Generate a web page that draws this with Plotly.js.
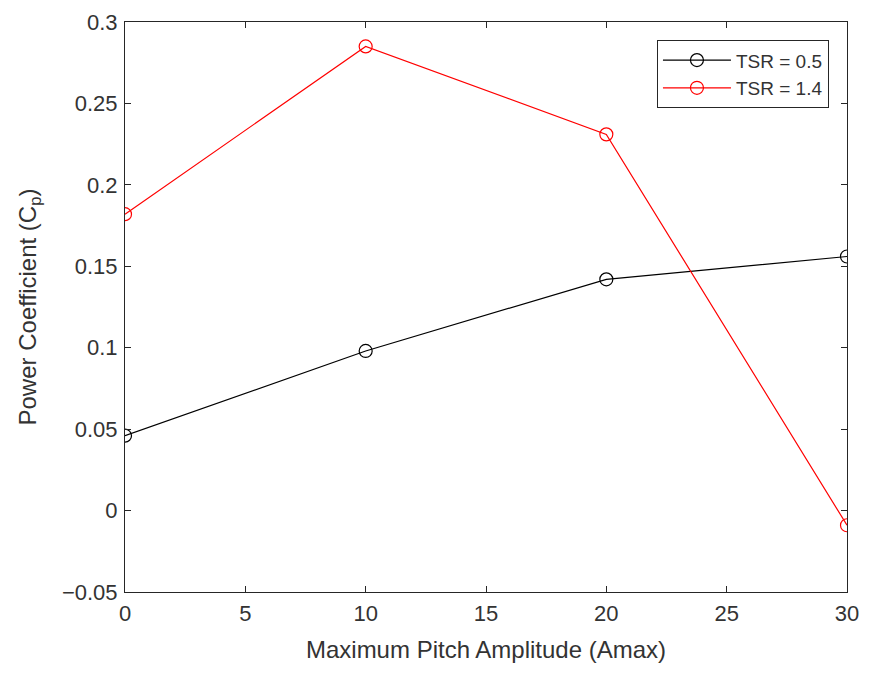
<!DOCTYPE html>
<html>
<head>
<meta charset="utf-8">
<script src="https://cdn.plot.ly/plotly-3.0.1.min.js"></script>
<style>
  html, body { margin: 0; padding: 0; background: #fff; }
  #graph { width: 870px; height: 674px; }
</style>
</head>
<body>
<div id="graph"></div>
<script>
// Maximum pitch amplitude (deg)
var amax = [0, 10, 20, 30];
// Power coefficient for each tip speed ratio
var cpTsr05 = [0.046, 0.098, 0.142, 0.156];
var cpTsr14 = [0.182, 0.285, 0.231, -0.009];
var seriesNames = ['TSR = 0.5', 'TSR = 1.4'];

var textColor = '#333333';
var fontFamily = 'Liberation Sans, Arial, sans-serif';

function makeTrace(y, name, color) {
    return {
        x: amax,
        y: y,
        name: name,
        mode: 'lines+markers',
        line: {color: color, width: 1.2},
        marker: {symbol: 'circle-open', size: 13, color: color, line: {width: 1.2, color: color}}
    };
}

var data = [
    makeTrace(cpTsr05, seriesNames[0], '#000000'),
    makeTrace(cpTsr14, seriesNames[1], '#ff0000')
];

var axisCommon = {
    showgrid: false,
    zeroline: false,
    showline: true,
    linecolor: '#262626',
    linewidth: 1,
    mirror: 'ticks',
    ticks: 'inside',
    ticklen: 6,
    tickcolor: '#262626',
    tickfont: {family: fontFamily, size: 22, color: textColor}
};

var layout = {
    width: 870,
    height: 674,
    margin: {l: 125, r: 23, t: 22, b: 82},
    paper_bgcolor: '#ffffff',
    plot_bgcolor: '#ffffff',
    font: {family: fontFamily, color: textColor},
    showlegend: true,
    legend: {
        x: 0.975, y: 0.968,
        xanchor: 'right', yanchor: 'top',
        bordercolor: '#262626',
        borderwidth: 1,
        bgcolor: '#ffffff',
        itemwidth: 68,
        font: {size: 19, color: textColor},
        tracegroupgap: 0
    },
    xaxis: Object.assign({}, axisCommon, {
        range: [0, 30],
        tickvals: [0, 5, 10, 15, 20, 25, 30],
        ticklabelstandoff: 2,
        title: {text: 'Maximum Pitch Amplitude (Amax)', font: {size: 24, color: textColor}, standoff: 15}
    }),
    yaxis: Object.assign({}, axisCommon, {
        range: [-0.05, 0.3],
        tickvals: [-0.05, 0, 0.05, 0.1, 0.15, 0.2, 0.25, 0.3],
        ticktext: ['\u22120.05', '0', '0.05', '0.1', '0.15', '0.2', '0.25', '0.3'],
        ticklabelstandoff: 2,
        title: {text: 'Power Coefficient (C<sub>p</sub>)', font: {size: 24, color: textColor}, standoff: 18}
    })
};

var graph = document.getElementById('graph');
Plotly.newPlot(graph, data, layout, {staticPlot: true});
</script>
</body>
</html>
